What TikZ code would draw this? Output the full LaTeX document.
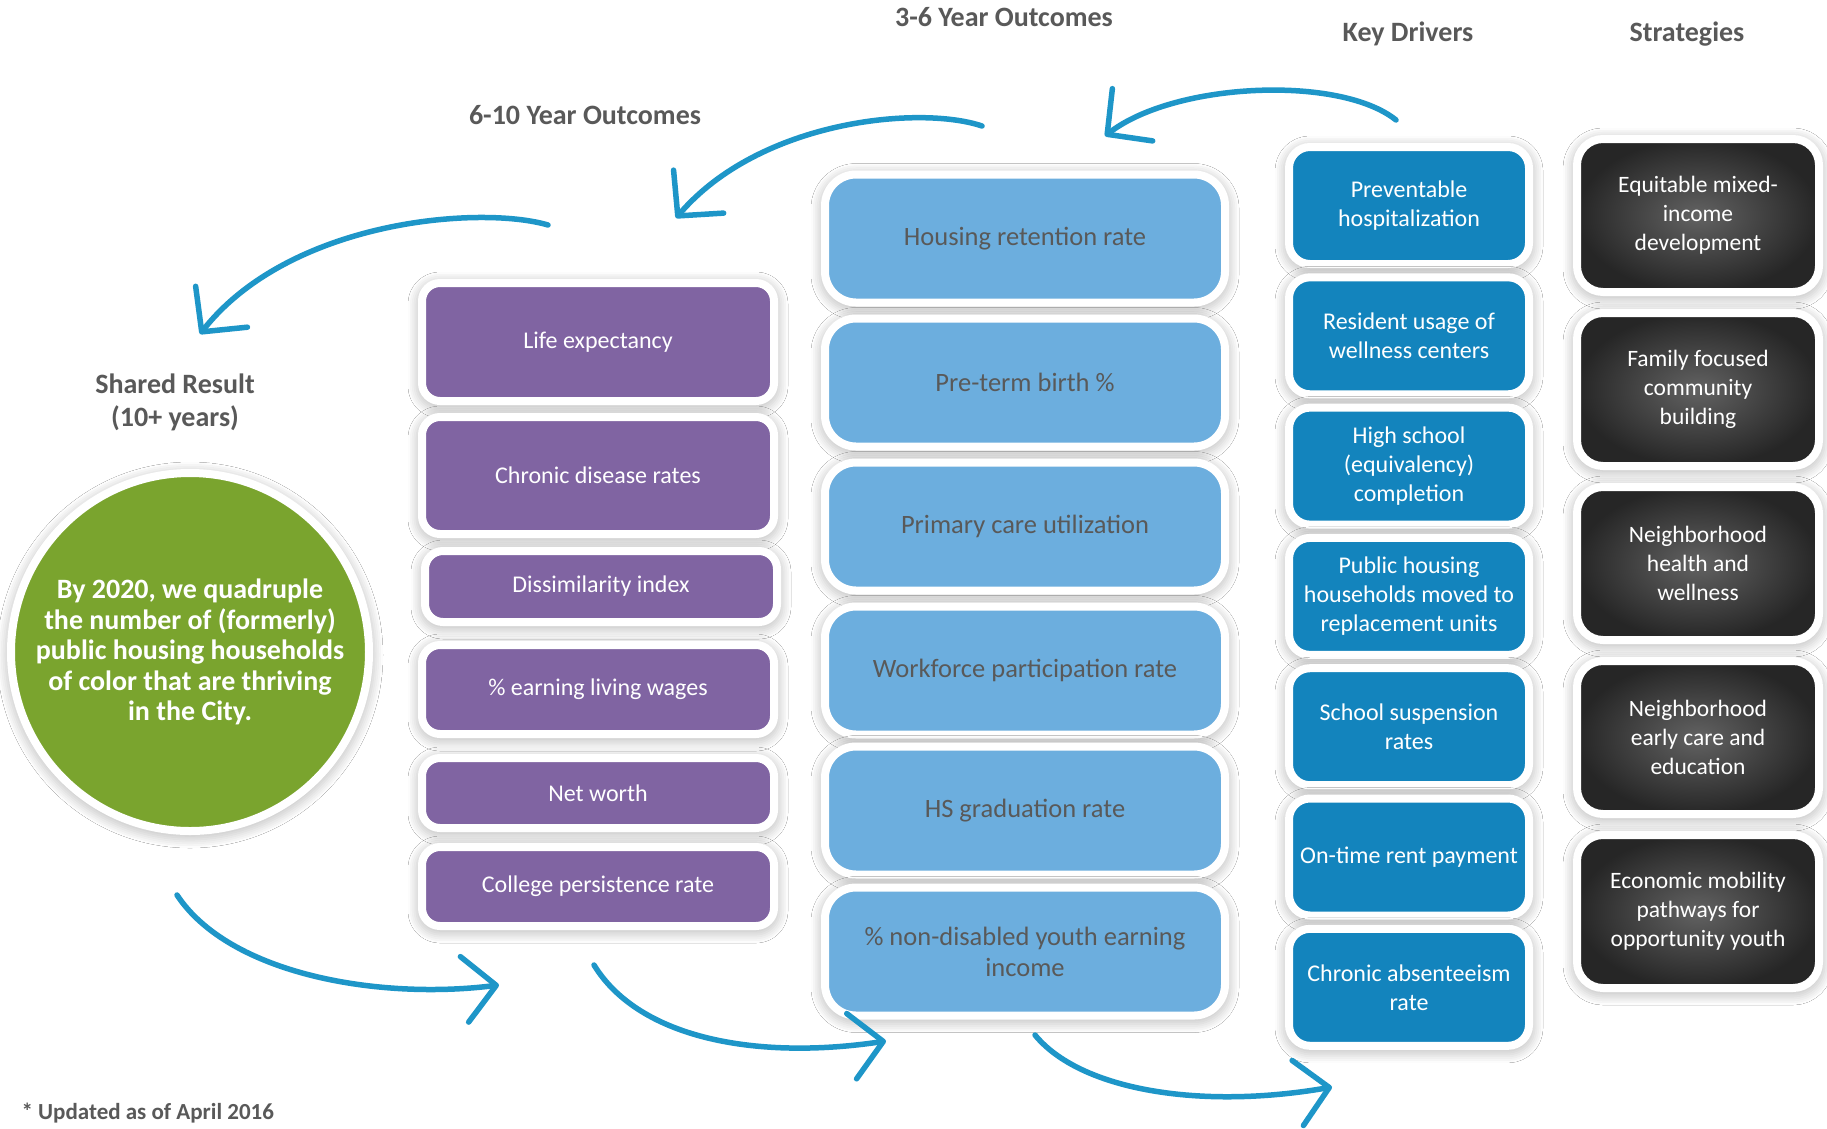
\documentclass[tikz,border=0pt]{standalone}
\usepackage{fontspec}
\setmainfont{Carlito}
\usepackage{xcolor}
\usetikzlibrary{arrows.meta,positioning,shadows.blur}

\definecolor{txtgray}{RGB}{89,89,89}
\definecolor{arrowblue}{RGB}{30,150,200}
\definecolor{leafgreen}{RGB}{122,164,46}
\definecolor{plum}{RGB}{128,100,162}
\definecolor{skyblue}{RGB}{108,174,222}
\definecolor{drvblue}{RGB}{19,132,189}
\definecolor{slatelight}{RGB}{98,98,98}
\definecolor{slatedark}{RGB}{38,38,38}

\begin{document}
\begin{tikzpicture}[
  x=1pt, y=-1pt,
  softshadow/.style={blur shadow={shadow blur steps=8, shadow xshift=0pt,
              shadow yshift=-3pt, shadow blur radius=14pt, shadow opacity=40}},
  framed/.style={rectangle, draw=white, line width=8pt, outer sep=0pt, align=center, softshadow},
  longbox/.style={framed, fill=plum, text=white, rounded corners=18pt,
              minimum width=352pt, font=\fontsize{24}{29}\selectfont},
  midbox/.style={framed, fill=skyblue, text=txtgray, rounded corners=31pt,
              minimum width=400pt, minimum height=128pt, font=\fontsize{26.5}{31}\selectfont},
  drvbox/.style={framed, fill=drvblue, text=white, rounded corners=21pt, inner sep=4pt,
              minimum width=240pt, minimum height=117pt, font=\fontsize{24}{29}\selectfont},
  stratbox/.style={framed, inner color=slatelight, outer color=slatedark, text=white,
              rounded corners=26pt, inner sep=4pt, minimum width=242pt, minimum height=153pt,
              font=\fontsize{23.5}{29}\selectfont},
  head/.style={text=txtgray, font=\fontsize{28}{33}\selectfont\bfseries, align=center},
  flow/.style={draw=arrowblue, line width=5.5pt, line cap=round,
              -{Straight Barb[length=32pt, width=66pt, round]}}
]
\fill[white] (0,0) rectangle (1827,1128);
\useasboundingbox (0,0) rectangle (1827,1128);

% column headings
\node[head] (h36)    at (1004,17)  {3-6 Year Outcomes};
\node[head] (hdrv)   at (1408,34)  {Key Drivers};
\node[head] (hstrat) at (1687,34)  {Strategies};
\node[head] (h610)   at (585,115)  {6-10 Year Outcomes};
\node[head] (hgoal)  at (175,402)  {Shared Result\\(10+ years)};

% shared result
\node[circle, fill=leafgreen, draw=white, line width=8pt, minimum size=358pt,
      inner sep=0pt, align=center, text=white, softshadow,
      font=\fontsize{28}{30.5}\selectfont\bfseries] (goal) at (190,652)
  {By 2020, we quadruple\\the number of (formerly)\\public housing households\\of color that are thriving\\in the City.};

% 6-10 year outcomes
\node[longbox, minimum height=118pt] (life) at (598,342) {Life expectancy};
\node[longbox, minimum height=117pt, below=16pt of life] (chronic) {Chronic disease rates};
\node[longbox, minimum height=71pt, below=17pt of chronic, xshift=3pt] (dissim) {Dissimilarity index};
\node[longbox, minimum height=89pt, below=23pt of dissim, xshift=-3pt] (wages) {\% earning living wages};
\node[longbox, minimum height=70pt, below=24pt of wages] (worth) {Net worth};
\node[longbox, minimum height=79pt, below=19pt of worth] (college) {College persistence rate};

% 3-6 year outcomes
\node[midbox] (retain) at (1025,238.5) {Housing retention rate};
\node[midbox, below=16pt of retain]    (preterm)   {Pre-term birth \%};
\node[midbox, below=16pt of preterm]   (primary)   {Primary care utilization};
\node[midbox, below=16pt of primary]   (workforce) {Workforce participation rate};
\node[midbox, below=12pt of workforce] (hsgrad)    {HS graduation rate};
\node[midbox, below=13pt of hsgrad]    (youth)     {\% non-disabled youth earning\\income};

% key drivers
\node[drvbox] (hosp) at (1409,205.5) {Preventable\\hospitalization};
\node[drvbox, below=13.3pt of hosp]    (wellness) {Resident usage of\\wellness centers};
\node[drvbox, below=13.3pt of wellness] (school)  {High school\\(equivalency)\\completion};
\node[drvbox, below=13.3pt of school]  (moved)    {Public housing\\households moved to\\replacement units};
\node[drvbox, below=13.3pt of moved]   (suspend)  {School suspension\\rates};
\node[drvbox, below=13.3pt of suspend] (rent)     {On-time rent payment};
\node[drvbox, below=13.3pt of rent]    (absent)   {Chronic absenteeism\\rate};

% strategies
\node[stratbox] (mixed) at (1698,215.5) {Equitable mixed-\\income\\development};
\node[stratbox, below=21pt of mixed]  (family) {Family focused\\community\\building};
\node[stratbox, below=21pt of family] (health) {Neighborhood\\health and\\wellness};
\node[stratbox, below=21pt of health] (early)  {Neighborhood\\early care and\\education};
\node[stratbox, below=21pt of early]  (mobil)  {Economic mobility\\pathways for\\opportunity youth};

\node[anchor=west, text=txtgray, font=\fontsize{23}{27}\selectfont\bfseries] (note)
  at (18,1113) {* Updated as of April 2016};

% cycle arrows
\coordinate (aS) at (1396,120);  \coordinate (aT) at (1105,136);
\coordinate (bS) at (982,126);   \coordinate (bT) at (676,218);
\coordinate (cS) at (548,225);   \coordinate (cT) at (200,334);
\coordinate (dS) at (177,895);   \coordinate (dT) at (499,985);
\coordinate (eS) at (594,965);   \coordinate (eT) at (886,1041);
\coordinate (fS) at (1035,1035); \coordinate (fT) at (1332,1087);
\draw[flow] (aS) .. controls (1340,75) and (1175,82) .. (aT);
\draw[flow] (bS) .. controls (920,105) and (760,120) .. (bT);
\draw[flow] (cS) .. controls (480,205) and (290,220) .. (cT);
\draw[flow] (dS) .. controls (230,975) and (380,1000) .. (dT);
\draw[flow] (eS) .. controls (640,1040) and (760,1060) .. (eT);
\draw[flow] (fS) .. controls (1080,1090) and (1200,1110) .. (fT);
\end{tikzpicture}
\end{document}
